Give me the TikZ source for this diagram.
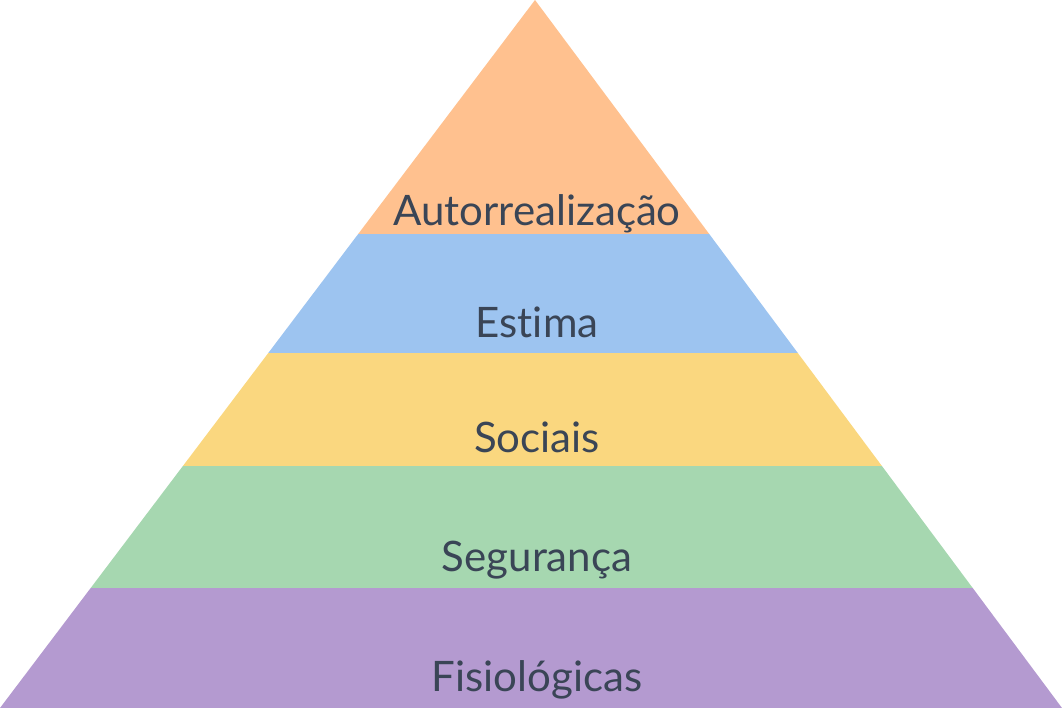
\documentclass[tikz,border=0pt]{standalone}
\usepackage{fontspec}
\setmainfont[Ligatures=NoCommon]{Lato}
\usetikzlibrary{positioning}

\definecolor{tierorange}{HTML}{FFC18F}
\definecolor{tierblue}{HTML}{9DC4F0}
\definecolor{tieryellow}{HTML}{FAD77F}
\definecolor{tiergreen}{HTML}{A6D7B0}
\definecolor{tierpurple}{HTML}{B49AD0}
\definecolor{labelink}{HTML}{3A4556}

\begin{document}
\begin{tikzpicture}[x=1pt,y=1pt,
  tier/.style={draw=none},
  tierlabel/.style={font=\fontsize{42}{48}\selectfont, text=labelink, anchor=base, inner sep=0pt}]
\useasboundingbox (0,0) rectangle (1062,708);
% band edges
\coordinate (apex) at (535,708);
\coordinate (l4) at (358.2,474);  \coordinate (r4) at (709.2,474);
\coordinate (l3) at (268.3,355);  \coordinate (r3) at (797.8,355);
\coordinate (l2) at (182.9,242);  \coordinate (r2) at (881.9,242);
\coordinate (l1) at (90.7,120);   \coordinate (r1) at (972.7,120);
\coordinate (l0) at (0,0);        \coordinate (r0) at (1062,0);
% tiers
\fill[tier, tierpurple] (l0) -- (r0) -- (r1) -- (l1) -- cycle;
\fill[tier, tiergreen] (l1) -- (r1) -- (r2) -- (l2) -- cycle;
\fill[tier, tieryellow] (l2) -- (r2) -- (r3) -- (l3) -- cycle;
\fill[tier, tierblue] (l3) -- (r3) -- (r4) -- (l4) -- cycle;
\fill[tier, tierorange] (l4) -- (r4) -- (apex) -- cycle;
% labels
\node[tierlabel] (autorrealizacao) at (537,482) {Autorrealização};
\node[tierlabel] (estima) at (537,370) {Estima};
\node[tierlabel] (sociais) at (537,255) {Sociais};
\node[tierlabel] (seguranca) at (537,136) {Segurança};
\node[tierlabel] (fisiologicas) at (537,16) {Fisiológicas};
\end{tikzpicture}
\end{document}
